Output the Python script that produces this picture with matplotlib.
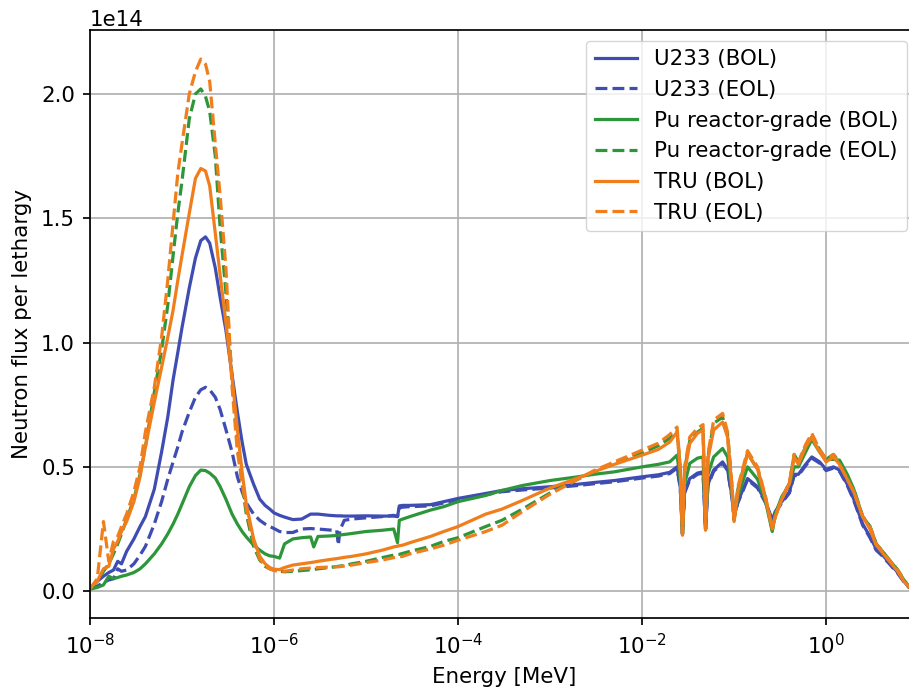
import matplotlib
matplotlib.use("Agg")
import matplotlib.pyplot as plt
import matplotlib as mpl
from matplotlib.ticker import NullLocator

# scale the default 10pt/1.5pt look to this image size (~154 dpi original)
k = 1.54
mpl.rcParams.update({
    "font.family": "DejaVu Sans",
    "font.size": 10 * k,
    "lines.linewidth": 1.5 * k,
    "axes.linewidth": 0.8 * k,
    "xtick.major.size": 3.5 * k,
    "ytick.major.size": 3.5 * k,
    "xtick.major.width": 0.8 * k,
    "ytick.major.width": 0.8 * k,
    "xtick.major.pad": 3.5 * k,
    "ytick.major.pad": 3.5 * k,
    "axes.labelpad": 4.0 * k,
    "grid.linewidth": 0.8 * k,
})

# energy grid [MeV]
energy = [
    1.0e-8, 1.2e-8, 1.4e-8, 1.6e-8, 1.8e-8, 2.0e-8, 2.2e-8, 2.5e-8, 3.0e-8, 3.5e-8,
    4.0e-8, 5.0e-8, 6.0e-8, 7.0e-8, 8.0e-8, 9.0e-8, 1.0e-7, 1.2e-7, 1.4e-7, 1.6e-7,
    1.8e-7, 2.0e-7, 2.3e-7, 2.6e-7, 3.0e-7, 3.5e-7, 4.0e-7, 4.5e-7, 5.0e-7, 6.0e-7,
    7.0e-7, 8.0e-7, 9.0e-7, 1.0e-6, 1.15e-6, 1.3e-6, 1.6e-6, 2.0e-6, 2.5e-6, 2.7e-6,
    3.0e-6, 4.0e-6, 4.8e-6, 5.0e-6, 5.2e-6, 5.8e-6, 7.0e-6, 1.0e-5, 1.5e-5, 2.0e-5,
    2.2e-5, 2.3e-5, 2.5e-5, 3.0e-5, 5.0e-5, 7.0e-5, 1.0e-4, 2.0e-4, 3.0e-4, 5.0e-4,
    1.0e-3, 2.0e-3, 3.0e-3, 5.0e-3, 1.0e-2, 1.5e-2, 2.0e-2, 2.4e-2, 2.6e-2, 2.75e-2,
    2.9e-2, 3.3e-2, 4.0e-2, 4.6e-2, 4.9e-2, 5.2e-2, 6.0e-2, 7.5e-2, 8.5e-2, 9.5e-2,
    1.0e-1, 1.1e-1, 1.4e-1, 1.8e-1, 2.2e-1, 2.6e-1, 2.8e-1, 3.3e-1, 4.0e-1, 4.5e-1,
    5.0e-1, 6.0e-1, 7.0e-1, 8.5e-1, 1.0, 1.2, 1.4, 1.7, 2.0, 2.5,
    3.0, 3.5, 4.0, 5.0, 6.0, 7.0, 8.0, 10.0,
]

# flux per lethargy, units of 1e14
u233_bol = [
    0.012, 0.04, 0.06, 0.075, 0.085, 0.12, 0.11, 0.16, 0.21, 0.26,
    0.30, 0.41, 0.56, 0.70, 0.85, 0.96, 1.06, 1.22, 1.34, 1.41,
    1.425, 1.40, 1.30, 1.18, 1.05, 0.87, 0.72, 0.60, 0.51, 0.43,
    0.37, 0.345, 0.33, 0.315, 0.305, 0.298, 0.288, 0.29, 0.31, 0.31,
    0.31, 0.305, 0.303, 0.303, 0.303, 0.302, 0.302, 0.303, 0.302, 0.302,
    0.30, 0.343, 0.345, 0.345, 0.348, 0.36, 0.373, 0.393, 0.405, 0.412,
    0.42, 0.43, 0.437, 0.445, 0.46, 0.468, 0.478, 0.50, 0.42, 0.23,
    0.40, 0.453, 0.475, 0.48, 0.25, 0.43, 0.487, 0.52, 0.49, 0.38,
    0.30, 0.36, 0.453, 0.42, 0.36, 0.286, 0.32, 0.36, 0.40, 0.47,
    0.47, 0.51, 0.54, 0.52, 0.49, 0.50, 0.487, 0.43, 0.37, 0.27,
    0.22, 0.17, 0.15, 0.11, 0.075, 0.04, 0.015, 0.004,
]
u233_eol = [
    0.01, 0.02, 0.035, 0.045, 0.05, 0.09, 0.08, 0.085, 0.11, 0.145,
    0.18, 0.27, 0.36, 0.45, 0.52, 0.58, 0.64, 0.72, 0.78, 0.81,
    0.82, 0.81, 0.78, 0.73, 0.65, 0.56, 0.46, 0.40, 0.355, 0.31,
    0.285, 0.27, 0.26, 0.252, 0.24, 0.236, 0.236, 0.25, 0.252, 0.251,
    0.25, 0.246, 0.245, 0.185, 0.245, 0.285, 0.29, 0.295, 0.30, 0.305,
    0.30, 0.335, 0.338, 0.34, 0.343, 0.355, 0.368, 0.388, 0.40, 0.407,
    0.415, 0.425, 0.432, 0.44, 0.455, 0.463, 0.473, 0.495, 0.415, 0.23,
    0.395, 0.448, 0.47, 0.475, 0.25, 0.425, 0.482, 0.515, 0.485, 0.375,
    0.30, 0.355, 0.448, 0.415, 0.355, 0.286, 0.315, 0.355, 0.395, 0.465,
    0.465, 0.505, 0.535, 0.515, 0.485, 0.495, 0.482, 0.425, 0.365, 0.265,
    0.215, 0.165, 0.145, 0.105, 0.072, 0.038, 0.014, 0.004,
]
pu_bol = [
    0.008, 0.015, 0.025, 0.06, 0.05, 0.055, 0.06, 0.065, 0.075, 0.09,
    0.11, 0.15, 0.19, 0.23, 0.27, 0.31, 0.35, 0.42, 0.465, 0.487,
    0.485, 0.475, 0.455, 0.42, 0.37, 0.31, 0.27, 0.24, 0.218, 0.185,
    0.165, 0.15, 0.142, 0.14, 0.133, 0.19, 0.21, 0.215, 0.218, 0.178,
    0.22, 0.222, 0.224, 0.225, 0.226, 0.228, 0.232, 0.24, 0.245, 0.25,
    0.195, 0.285, 0.29, 0.30, 0.326, 0.34, 0.36, 0.385, 0.405, 0.425,
    0.445, 0.46, 0.47, 0.48, 0.50, 0.51, 0.52, 0.547, 0.45, 0.23,
    0.43, 0.514, 0.535, 0.54, 0.25, 0.47, 0.54, 0.574, 0.54, 0.40,
    0.29, 0.38, 0.50, 0.45, 0.36, 0.24, 0.31, 0.38, 0.43, 0.50,
    0.50, 0.56, 0.61, 0.56, 0.53, 0.53, 0.527, 0.47, 0.41, 0.30,
    0.26, 0.19, 0.165, 0.12, 0.085, 0.045, 0.018, 0.005,
]
pu_eol = [
    0.01, 0.04, 0.08, 0.11, 0.15, 0.19, 0.23, 0.29, 0.37, 0.47,
    0.58, 0.80, 0.97, 1.15, 1.35, 1.52, 1.65, 1.90, 2.00, 2.02,
    1.99, 1.93, 1.75, 1.46, 1.20, 0.86, 0.60, 0.43, 0.31, 0.18,
    0.125, 0.10, 0.09, 0.085, 0.08, 0.078, 0.08, 0.083, 0.086, 0.087,
    0.09, 0.095, 0.099, 0.10, 0.101, 0.103, 0.11, 0.12, 0.135, 0.145,
    0.147, 0.148, 0.152, 0.16, 0.18, 0.20, 0.215, 0.26, 0.285, 0.33,
    0.395, 0.45, 0.48, 0.515, 0.555, 0.585, 0.615, 0.645, 0.49, 0.23,
    0.49, 0.605, 0.64, 0.655, 0.25, 0.54, 0.675, 0.70, 0.63, 0.42,
    0.285, 0.41, 0.555, 0.49, 0.375, 0.245, 0.30, 0.37, 0.435, 0.55,
    0.52, 0.58, 0.62, 0.57, 0.53, 0.55, 0.52, 0.46, 0.41, 0.30,
    0.26, 0.19, 0.165, 0.12, 0.085, 0.045, 0.018, 0.005,
]
tru_bol = [
    0.012, 0.04, 0.09, 0.10, 0.17, 0.20, 0.24, 0.28, 0.36, 0.46,
    0.58, 0.76, 0.90, 1.02, 1.13, 1.25, 1.35, 1.52, 1.66, 1.70,
    1.69, 1.63, 1.44, 1.27, 1.08, 0.86, 0.65, 0.48, 0.35, 0.21,
    0.14, 0.11, 0.095, 0.088, 0.087, 0.095, 0.105, 0.11, 0.115, 0.117,
    0.12, 0.127, 0.131, 0.132, 0.133, 0.136, 0.14, 0.15, 0.165, 0.178,
    0.181, 0.183, 0.185, 0.195, 0.22, 0.24, 0.26, 0.31, 0.33, 0.365,
    0.415, 0.455, 0.48, 0.51, 0.547, 0.57, 0.60, 0.64, 0.49, 0.225,
    0.48, 0.594, 0.635, 0.648, 0.245, 0.53, 0.648, 0.68, 0.62, 0.41,
    0.28, 0.40, 0.554, 0.49, 0.37, 0.252, 0.30, 0.37, 0.433, 0.54,
    0.51, 0.58, 0.62, 0.56, 0.52, 0.54, 0.51, 0.45, 0.40, 0.30,
    0.25, 0.185, 0.16, 0.115, 0.08, 0.04, 0.016, 0.004,
]
tru_eol = [
    0.01, 0.05, 0.28, 0.12, 0.20, 0.22, 0.26, 0.31, 0.40, 0.50,
    0.64, 0.82, 1.02, 1.25, 1.48, 1.68, 1.80, 2.00, 2.09, 2.14,
    2.12, 2.05, 1.80, 1.59, 1.30, 0.82, 0.56, 0.44, 0.33, 0.20,
    0.13, 0.10, 0.09, 0.083, 0.08, 0.08, 0.085, 0.09, 0.093, 0.094,
    0.095, 0.097, 0.098, 0.098, 0.099, 0.101, 0.105, 0.115, 0.125, 0.135,
    0.137, 0.138, 0.14, 0.15, 0.17, 0.185, 0.205, 0.24, 0.265, 0.32,
    0.39, 0.45, 0.485, 0.52, 0.567, 0.595, 0.63, 0.66, 0.50, 0.23,
    0.50, 0.62, 0.655, 0.67, 0.25, 0.55, 0.688, 0.715, 0.64, 0.42,
    0.28, 0.42, 0.565, 0.50, 0.38, 0.25, 0.30, 0.37, 0.44, 0.55,
    0.52, 0.59, 0.635, 0.57, 0.53, 0.55, 0.51, 0.45, 0.40, 0.30,
    0.26, 0.19, 0.165, 0.12, 0.085, 0.045, 0.018, 0.005,
]

series = [
    ("U233 (BOL)", u233_bol, "#3f4db3", "-"),
    ("U233 (EOL)", u233_eol, "#3f4db3", "--"),
    ("Pu reactor-grade (BOL)", pu_bol, "#2e963a", "-"),
    ("Pu reactor-grade (EOL)", pu_eol, "#2e963a", "--"),
    ("TRU (BOL)", tru_bol, "#f07e1c", "-"),
    ("TRU (EOL)", tru_eol, "#f07e1c", "--"),
]

fig = plt.figure(figsize=(9.09, 6.87), dpi=100)
ax = fig.add_axes([0.099, 0.1004, 0.911, 0.8559])

for label, vals, color, ls in series:
    ax.plot(energy, [v * 1e14 for v in vals], color=color, linestyle=ls, label=label)

ax.set_xscale("log")
ax.set_xlim(1e-8, 10)
ax.set_ylim(-0.108e14, 2.257e14)
ax.set_xticks([1e-8, 1e-6, 1e-4, 1e-2, 1e0])
ax.xaxis.set_minor_locator(NullLocator())
ax.set_yticks([0, 0.5e14, 1.0e14, 1.5e14, 2.0e14])

ax.set_xlabel("Energy [MeV]")
ax.set_ylabel("Neutron flux per lethargy")
ax.grid(True)

ax.legend(loc="upper right")

fig.savefig("out.png", dpi=100)
